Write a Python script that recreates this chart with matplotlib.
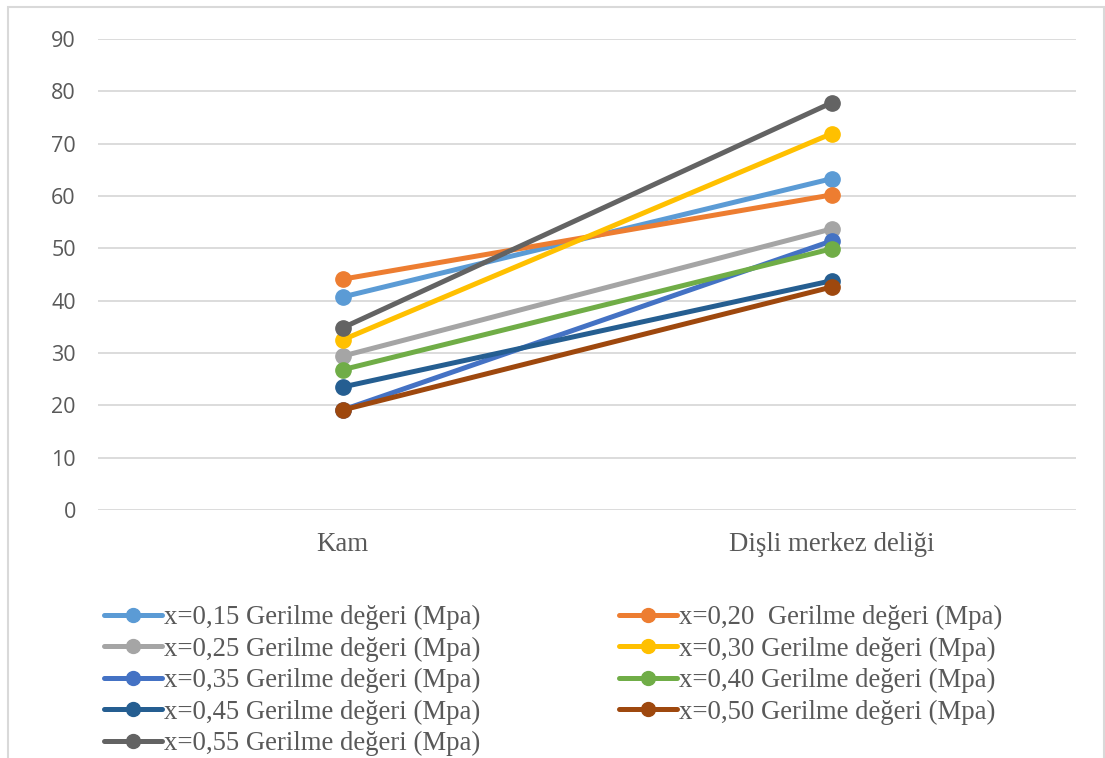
import matplotlib
matplotlib.use("Agg")
import matplotlib.pyplot as plt
from matplotlib.patches import Rectangle

# Categories on the x axis
categories = ["Kam", "Dişli merkez deliği"]

# Stress values (MPa) for each x ratio
series_labels = [
    "x=0,15 Gerilme değeri (Mpa)",
    "x=0,20  Gerilme değeri (Mpa)",
    "x=0,25 Gerilme değeri (Mpa)",
    "x=0,30 Gerilme değeri (Mpa)",
    "x=0,35 Gerilme değeri (Mpa)",
    "x=0,40 Gerilme değeri (Mpa)",
    "x=0,45 Gerilme değeri (Mpa)",
    "x=0,50 Gerilme değeri (Mpa)",
    "x=0,55 Gerilme değeri (Mpa)",
]
x015 = [40.7, 63.3]
x020 = [44.1, 60.2]
x025 = [29.4, 53.7]
x030 = [32.5, 71.9]
x035 = [19.1, 51.4]
x040 = [26.8, 49.9]
x045 = [23.5, 43.8]
x050 = [19.1, 42.6]
x055 = [34.8, 77.8]
series_values = [x015, x020, x025, x030, x035, x040, x045, x050, x055]

colors = ["#5B9BD5", "#ED7D31", "#A5A5A5", "#FFC000", "#4472C4",
          "#70AD47", "#255E91", "#9E480E", "#636363"]

y_ticks = [0, 10, 20, 30, 40, 50, 60, 70, 80, 90]

W, H = 1105, 758
fig = plt.figure(figsize=(W / 100, H / 100), dpi=100)
fig.patch.set_facecolor("white")

# Outer chart border
fig.add_artist(Rectangle((8 / W, 1 - 790 / H), (1104 - 8) / W, (790 - 7) / H,
                         transform=fig.transFigure, fill=False,
                         edgecolor="#D9D9D9", linewidth=1.5))

ax = fig.add_axes([98 / W, 1 - 510 / H, (1076 - 98) / W, (510 - 39) / H])
ax.set_facecolor("white")

xs = list(range(len(categories)))
handles = []
for lab, vals, col in zip(series_labels, series_values, colors):
    h, = ax.plot(xs, vals, color=col, linewidth=3.6, marker="o",
                 markersize=11, markerfacecolor=col, markeredgecolor=col,
                 solid_capstyle="round", label=lab)
    handles.append(h)

ax.set_xlim(-0.5, len(categories) - 0.5)
ax.set_ylim(0, 90)
ax.set_yticks(y_ticks)
ax.set_yticklabels([str(v) for v in y_ticks], fontfamily="Open Sans",
                   fontsize=15.5, color="#595959")
ax.set_xticks(xs)
ax.set_xticklabels(categories, fontfamily="Liberation Serif", fontsize=19.4,
                   color="#595959")
ax.tick_params(axis="y", length=0, pad=16)
ax.tick_params(axis="x", length=0, pad=16)
for s in ax.spines.values():
    s.set_visible(False)
ax.grid(axis="y", color="#D9D9D9", linewidth=1.3)
ax.set_axisbelow(True)

# Legend in two columns, filled row by row
leg_kw = dict(frameon=False, handlelength=2.15, handletextpad=0.1,
              labelspacing=0.24, borderpad=0, borderaxespad=0,
              prop={"family": "Liberation Serif", "size": 19.3},
              labelcolor="#595959", loc="upper left")
left_col = handles[0::2]
right_col = handles[1::2]
leg1 = fig.legend(handles=left_col, labels=[h.get_label() for h in left_col],
                  bbox_to_anchor=(104 / W, 1 - 605 / H), **leg_kw)
leg2 = fig.legend(handles=right_col, labels=[h.get_label() for h in right_col],
                  bbox_to_anchor=(619 / W, 1 - 605 / H), **leg_kw)
for leg in (leg1, leg2):
    for ln in leg.get_lines():
        ln.set_markersize(10)
        ln.set_linewidth(3.6)

fig.savefig("out.png", dpi=100, facecolor="white")
